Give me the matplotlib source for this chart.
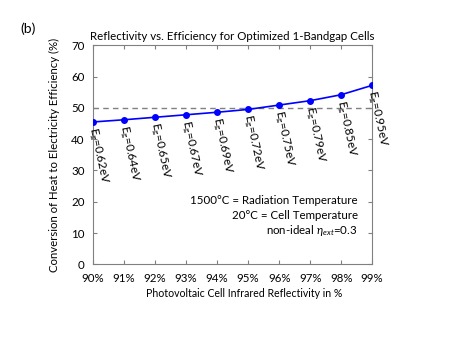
import matplotlib
matplotlib.use("Agg")
import matplotlib.pyplot as plt

plt.rcParams['font.family'] = ['Lato', 'DejaVu Sans']
plt.rcParams['mathtext.fontset'] = 'custom'
plt.rcParams['mathtext.rm'] = 'Lato'
plt.rcParams['mathtext.it'] = 'Lato:italic'

reflectivity = [90, 91, 92, 93, 94, 95, 96, 97, 98, 99]
efficiency = [45.5, 46.2, 47.0, 47.8, 48.6, 49.5, 50.9, 52.3, 54.2, 57.2]
bandgaps = ['0.62', '0.64', '0.65', '0.67', '0.69', '0.72', '0.75', '0.79', '0.85', '0.95']
xtick_labels = [f'{v}%' for v in reflectivity]
yticks = [0, 10, 20, 30, 40, 50, 60, 70]
ref_line = 50

fig = plt.figure(figsize=(4.5, 3.38), dpi=100)
ax = fig.add_axes([0.207, 0.218, 0.62, 0.648])

ax.axhline(ref_line, color='#808080', lw=1.0, ls=(0, (4, 3)), zorder=1)
ax.plot(reflectivity, efficiency, color='#0000ff', lw=1.2, marker='o', ms=4, zorder=3)

for x, y, bg in zip(reflectivity, efficiency, bandgaps):
    ax.annotate(r'E$_\mathrm{g}$=' + bg + 'eV', (x, y), xytext=(-1, -4), textcoords='offset points',
                rotation=-78, rotation_mode='anchor', ha='left', va='center', fontsize=8.5)

ax.set_xlim(90, 99)
ax.set_ylim(0, 70)
ax.set_xticks(reflectivity)
ax.set_xticklabels(xtick_labels)
ax.set_yticks(yticks)
ax.tick_params(direction='in', length=3, width=0.8, color='#808080', labelsize=8.3,
               top=True, right=True)
ax.tick_params(axis='x', pad=6)
ax.tick_params(axis='y', pad=6)
for s in ax.spines.values():
    s.set_color('#808080')
    s.set_linewidth(0.8)

ax.set_title('Reflectivity vs. Efficiency for Optimized 1-Bandgap Cells', fontsize=8.3, pad=4)
ax.set_xlabel('Photovoltaic Cell Infrared Reflectivity in %', fontsize=7.6)
ax.xaxis.set_label_coords(0.54, -0.108)
ax.set_ylabel('Conversion of Heat to Electricity Efficiency (%)', fontsize=8.2)
ax.yaxis.set_label_coords(-0.12, 0.5)

ax.text(0.948, 0.29, '1500°C = Radiation Temperature', transform=ax.transAxes, ha='right', va='center', fontsize=8.3)
ax.text(0.948, 0.223, '20°C = Cell Temperature', transform=ax.transAxes, ha='right', va='center', fontsize=8.3)
ax.text(0.948, 0.156, r'non-ideal $\eta_{ext}$=0.3', transform=ax.transAxes, ha='right', va='center', fontsize=8.3)

fig.text(0.045, 0.915, '(b)', fontsize=10, ha='left', va='center')

fig.savefig('out.png', dpi=100)
